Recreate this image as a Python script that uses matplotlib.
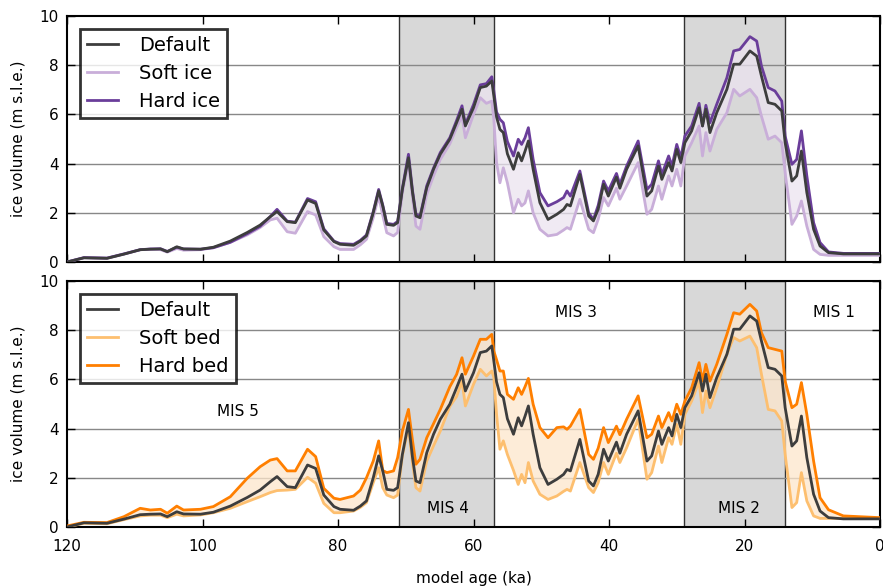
import numpy as np
import matplotlib
matplotlib.use("Agg")
import matplotlib.pyplot as plt

age = [120, 117.5, 114.1, 111.6, 109.2, 107.7, 106.2, 105.2, 103.8, 102.8, 100.3, 98.4, 95.9, 93.4, 91.5, 90, 89, 87.5, 86.3, 84.5,
       83.3, 82.1, 80.6, 79.7, 77.7, 76.7, 75.8, 74.8, 74.0, 73.4, 72.8, 71.8, 71.2, 70.5, 69.6, 69.0, 68.5, 67.9, 66.9, 65.9,
       64.9, 63.5, 62.5, 61.7, 61.2, 60.0, 59.0, 58.1, 57.3, 57.0, 56.6, 56.1, 55.6, 55.0, 54.1, 53.4, 52.9, 52.4, 51.9, 51.2,
       50.2, 49.0, 47.7, 46.7, 46.2, 45.7, 44.3, 43.0, 42.3, 41.6, 40.8, 40.1, 38.9, 38.4, 37.4, 35.7, 34.4, 33.7, 32.7, 32.2,
       31.2, 30.7, 30.0, 29.4, 28.8, 27.8, 26.7, 26.2, 25.7, 25.1, 24.1, 22.6, 21.6, 20.7, 19.2, 18.2, 17.5, 16.5, 15.5, 14.5,
       14.0, 13.0, 12.3, 11.6, 10.8, 9.8, 8.85, 7.6, 5.4, 0]

default = [0.0, 0.17, 0.15, 0.32, 0.5, 0.52, 0.53, 0.42, 0.62, 0.53, 0.52, 0.6, 0.85, 1.2, 1.5, 1.84, 2.05, 1.64, 1.6, 2.52,
           2.38, 1.3, 0.83, 0.72, 0.68, 0.85, 1.06, 2.0, 2.89, 2.28, 1.53, 1.49, 1.6, 2.95, 4.24, 2.82, 1.87, 1.8, 3.02, 3.77,
           4.38, 4.99, 5.66, 6.21, 5.53, 6.27, 7.09, 7.15, 7.36, 6.75, 5.9, 5.39, 5.26, 4.4, 3.77, 4.44, 4.11, 4.5, 4.92, 3.77,
           2.41, 1.73, 1.94, 2.14, 2.34, 2.28, 3.56, 1.87, 1.67, 2.14, 3.16, 2.68, 3.45, 3.0, 3.77, 4.72, 2.68, 2.89, 3.9, 3.36,
           4.04, 3.7, 4.58, 4.04, 4.85, 5.33, 6.27, 5.53, 6.21, 5.26, 6.07, 7.02, 8.04, 8.04, 8.58, 8.37, 7.56, 6.48, 6.41, 6.14,
           4.85, 3.29, 3.5, 4.51, 2.82, 1.33, 0.65, 0.38, 0.33, 0.33]

soft_ice = [0.0, 0.17, 0.15, 0.32, 0.5, 0.52, 0.5, 0.4, 0.55, 0.48, 0.5, 0.58, 0.8, 1.1, 1.4, 1.71, 1.78, 1.23, 1.17, 2.05,
            1.91, 1.03, 0.62, 0.51, 0.51, 0.7, 0.92, 1.8, 2.68, 1.9, 1.19, 1.06, 1.2, 2.82, 4.04, 2.6, 1.46, 1.33, 2.75, 3.5,
            4.17, 4.8, 5.46, 5.93, 5.05, 6.0, 6.68, 6.45, 6.54, 5.8, 4.04, 3.22, 3.83, 3.22, 2.0, 2.55, 2.28, 2.4, 2.89, 2.0,
            1.33, 1.06, 1.12, 1.3, 1.4, 1.33, 2.55, 1.33, 1.19, 1.73, 2.62, 2.28, 3.0, 2.55, 3.09, 4.04, 1.94, 2.14, 3.09, 2.55,
            3.5, 3.09, 3.77, 3.09, 4.31, 4.85, 5.53, 4.31, 5.26, 4.51, 5.39, 6.07, 7.02, 6.75, 7.02, 6.68, 5.93, 4.99, 5.12, 4.85,
            3.63, 1.53, 1.87, 2.48, 1.46, 0.51, 0.31, 0.27, 0.27, 0.27]

hard_ice = [0.0, 0.18, 0.16, 0.33, 0.5, 0.53, 0.54, 0.43, 0.6, 0.53, 0.52, 0.58, 0.8, 1.15, 1.45, 1.85, 2.14, 1.66, 1.62, 2.58,
            2.45, 1.35, 0.85, 0.75, 0.72, 0.88, 1.1, 2.05, 2.95, 2.32, 1.57, 1.53, 1.65, 3.0, 4.38, 2.9, 1.95, 1.85, 3.1, 3.82,
            4.45, 5.05, 5.75, 6.35, 5.6, 6.4, 7.2, 7.25, 7.53, 6.95, 6.1, 5.8, 5.66, 4.9, 4.31, 4.99, 4.78, 5.05, 5.46, 4.17,
            2.82, 2.28, 2.45, 2.62, 2.89, 2.68, 3.7, 2.0, 1.73, 2.3, 3.29, 2.89, 3.6, 3.16, 3.9, 4.92, 2.95, 3.16, 4.11, 3.56,
            4.31, 3.9, 4.78, 4.24, 5.12, 5.53, 6.45, 5.53, 6.37, 5.66, 6.41, 7.49, 8.58, 8.64, 9.16, 8.98, 7.97, 7.09, 6.95, 6.54,
            5.12, 3.97, 4.17, 5.33, 3.5, 1.6, 0.79, 0.41, 0.35, 0.35]

soft_bed = [0.0, 0.15, 0.13, 0.3, 0.45, 0.48, 0.48, 0.38, 0.52, 0.45, 0.49, 0.58, 0.76, 1.03, 1.23, 1.4, 1.48, 1.5, 1.53, 2.02,
            1.78, 0.96, 0.58, 0.58, 0.65, 0.8, 0.99, 1.8, 2.41, 1.6, 1.3, 1.19, 1.3, 2.9, 4.04, 2.6, 1.6, 1.46, 2.68, 3.3,
            3.9, 4.9, 5.3, 5.93, 4.92, 5.8, 6.41, 6.14, 6.34, 6.07, 4.58, 3.16, 3.5, 2.95, 2.3, 1.73, 2.14, 1.8, 2.62, 1.87,
            1.33, 1.12, 1.26, 1.45, 1.53, 1.46, 2.62, 1.6, 1.4, 1.8, 2.62, 2.14, 3.0, 2.62, 3.22, 4.38, 1.94, 2.21, 3.29, 2.62,
            3.63, 3.36, 4.17, 3.36, 4.58, 5.12, 5.93, 4.65, 5.53, 4.85, 5.66, 7.02, 7.7, 7.56, 7.76, 7.29, 6.21, 4.78, 4.72, 4.31,
            2.95, 0.79, 0.99, 2.21, 1.06, 0.45, 0.35, 0.35, 0.35, 0.35]

hard_bed = [0.04, 0.19, 0.18, 0.42, 0.76, 0.69, 0.72, 0.56, 0.85, 0.69, 0.72, 0.83, 1.23, 1.98, 2.45, 2.72, 2.78, 2.28, 2.28, 3.16,
            2.86, 1.57, 1.17, 1.12, 1.26, 1.5, 2.0, 2.68, 3.5, 2.3, 2.21, 2.28, 2.82, 3.9, 4.78, 3.5, 2.55, 2.75, 3.63, 4.2,
            4.78, 5.7, 6.2, 6.88, 6.21, 6.95, 7.63, 7.63, 7.83, 7.15, 6.8, 6.34, 6.34, 5.39, 5.19, 5.66, 5.39, 5.7, 6.04, 4.99,
            4.04, 3.63, 4.04, 4.07, 3.97, 4.1, 4.78, 2.95, 2.75, 3.2, 4.04, 3.43, 4.1, 3.75, 4.38, 5.33, 3.63, 3.77, 4.51, 4.04,
            4.65, 4.31, 4.99, 4.58, 5.12, 5.66, 6.68, 5.93, 6.61, 5.93, 6.61, 7.83, 8.71, 8.65, 9.05, 8.78, 7.9, 7.29, 7.22, 7.15,
            5.93, 4.85, 4.99, 5.87, 4.58, 2.68, 1.19, 0.7, 0.45, 0.38]

stadials = [(71, 57), (29, 14)]
mis_labels = ["MIS 5", "MIS 4", "MIS 3", "MIS 2", "MIS 1"]
mis_x = [94.8, 63.8, 44.9, 20.8, 6.8]
mis_y = [4.7, 0.75, 8.7, 0.75, 8.7]

plt.rcParams['font.family'] = ['DejaVu Sans']

fig = plt.figure(figsize=(8.83, 5.86), dpi=100)
ax1 = fig.add_axes([0.0759, 0.5529, 0.9207, 0.4198])
ax2 = fig.add_axes([0.0759, 0.1007, 0.9207, 0.4198])

c_def = '#3d3d3d'
panels = [
    (ax1, soft_ice, hard_ice, '#c9aed9', '#6a3d9a', '#ebe3f0', 'Soft ice', 'Hard ice'),
    (ax2, soft_bed, hard_bed, '#fdbf6f', '#ff7f00', '#fde6cc', 'Soft bed', 'Hard bed'),
]
for ax, soft, hard, c_soft, c_hard, c_fill, l_soft, l_hard in panels:
    for a0, a1 in stadials:
        ax.axvspan(a0, a1, facecolor='#d8d8d8', edgecolor='#333333', lw=1.0, zorder=0)
    for yv in [2, 4, 6, 8]:
        ax.axhline(yv, color='#888888', lw=1.0, zorder=1)
    ax.fill_between(age, soft, hard, color=c_fill, alpha=0.75, lw=0, zorder=2)
    ax.plot(age, default, color=c_def, lw=2.0, label='Default', zorder=5)
    ax.plot(age, soft, color=c_soft, lw=2.0, label=l_soft, zorder=3)
    ax.plot(age, hard, color=c_hard, lw=2.0, label=l_hard, zorder=4)
    ax.set_xlim(120, 0)
    ax.set_ylim(0, 10)
    ax.set_xticks([120, 100, 80, 60, 40, 20, 0])
    ax.set_yticks([0, 2, 4, 6, 8, 10])
    ax.tick_params(direction='in', top=True, right=True, length=6, width=1, labelsize=11)
    ax.tick_params(axis='x', pad=9)
    ax.tick_params(axis='y', pad=6)
    for s in ax.spines.values():
        s.set_linewidth(1.5)
    ax.set_ylabel('ice volume (m s.l.e.)', fontsize=11, labelpad=10)
    handles, labels = ax.get_legend_handles_labels()
    leg = ax.legend(handles, labels, loc='upper left', fontsize=14, frameon=True, fancybox=False,
                    handlelength=1.6, handletextpad=1.1, borderpad=0.35, labelspacing=0.45,
                    bbox_to_anchor=(0.004, 0.985))
    leg.get_frame().set_edgecolor('black')
    leg.get_frame().set_linewidth(2.0)
    leg.set_zorder(10)

ax1.tick_params(labelbottom=False)
ax2.set_xlabel('model age (ka)', fontsize=11, labelpad=12)
for t, x, y in zip(mis_labels, mis_x, mis_y):
    ax2.text(x, y, t, ha='center', va='center', fontsize=11, zorder=6)

fig.savefig('out.png', dpi=100)
